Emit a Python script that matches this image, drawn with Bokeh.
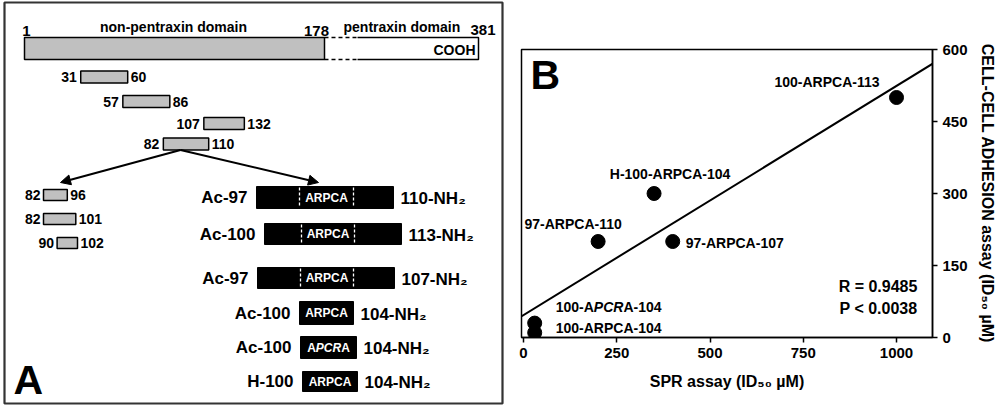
import numpy as np
from bokeh.plotting import figure
from bokeh.layouts import row
from bokeh.models import Range1d, Arrow, NormalHead, Slope
from bokeh.embed import file_html
from bokeh.resources import INLINE
from bokeh.core.properties import value

FONT = "Liberation Sans"

# ---------------- data ----------------
domain_residues = [1, 178, 381]
domain_names = ["non-pentraxin domain", "pentraxin domain"]
frag_start = [31, 57, 107, 82]
frag_end = [60, 86, 132, 110]
sub_start = [82, 82, 90]
sub_end = [96, 101, 102]
pep_nterm = ["Ac-97", "Ac-100", "Ac-97", "Ac-100", "Ac-100", "H-100"]
pep_cterm = ["110-NH\u2082", "113-NH\u2082", "107-NH\u2082", "104-NH\u2082", "104-NH\u2082", "104-NH\u2082"]
pep_motif = ["ARPCA", "ARPCA", "ARPCA", "ARPCA", "APCRA", "ARPCA"]

pep_names = ["100-ARPCA-113", "H-100-ARPCA-104", "97-ARPCA-110",
             "97-ARPCA-107", "100-APCRA-104", "100-ARPCA-104"]
spr = [1000, 350, 200, 400, 30, 30]
adhesion = [500, 300, 200, 200, 30, 10]
x_ticks = [0, 250, 500, 750, 1000]
y_ticks = [0, 150, 300, 450, 600]
stats = ["R = 0.9485", "P < 0.0038"]


def bold_text(p, x, y, t, size, align="left", color="black", style="bold", **kw):
    p.text(x=x, y=y, text=t, text_align=align, text_baseline="middle",
           text_font=value(FONT), text_font_style=style, text_font_size=size,
           text_color=color, **kw)


# ---------------- panel A (schematic, screen-like coordinates) ----------------
pA = figure(width=508, height=408, x_range=Range1d(0, 508), y_range=Range1d(408, 0),
            x_axis_type=None, y_axis_type=None, toolbar_location=None,
            output_backend="svg", min_border=0, min_border_left=0, min_border_right=0,
            min_border_top=0, min_border_bottom=0)
pA.frame_align = False
pA.grid.visible = False
pA.outline_line_color = None

# panel frame
pA.quad(left=[4], right=[502], top=[2], bottom=[403], fill_color=None,
        line_color="#333333", line_width=2.2)

# full-length protein
dom_x = [24, 324, 478]
bar_top, bar_bot = 37, 59
pA.quad(left=[dom_x[0]], right=[dom_x[1]], top=[bar_top], bottom=[bar_bot],
        fill_color="#c0c0c0", line_color="black", line_width=1.5)
pA.multi_line(xs=[[357, dom_x[2], dom_x[2], 357]], ys=[[bar_top, bar_top, bar_bot, bar_bot]],
              line_color="black", line_width=1.5)
pA.segment(x0=[dom_x[1], dom_x[1]], y0=[bar_top, bar_bot], x1=[357, 357], y1=[bar_top, bar_bot],
           line_color="black", line_width=1.5, line_dash="4 3")
bold_text(pA, [dom_x[0] + 2], [30], [str(domain_residues[0])], "15px", "center")
bold_text(pA, [dom_x[1] - 8], [30], [str(domain_residues[1])], "15px", "center")
bold_text(pA, [dom_x[2] - 8], [29], [str(domain_residues[2])], "15px", "left")
bold_text(pA, [173], [26], [domain_names[0]], "14px", "center")
bold_text(pA, [343], [26], [domain_names[1]], "14px", "left")
bold_text(pA, [475], [49], ["COOH"], "14px", "right")

# fragments
fx = lambda r: 30 + 1.62 * r
frag_y = [76.5, 101, 123, 143.5]
for s, e, y in zip(frag_start, frag_end, frag_y):
    pA.quad(left=[fx(s)], right=[fx(e)], top=[y - 6], bottom=[y + 6],
            fill_color="#c0c0c0", line_color="black", line_width=1.5)
    bold_text(pA, [fx(s) - 4], [y], [str(s)], "14px", "right")
    bold_text(pA, [fx(e) + 3], [y], [str(e)], "14px", "left")

# arrows
for xe in (60, 318):
    pA.add_layout(Arrow(end=NormalHead(size=10, fill_color="black", line_color="black"),
                        x_start=180, y_start=149.5, x_end=xe, y_end=182,
                        line_color="black", line_width=2))

# sub-fragments
sx = lambda r: 43 + 1.7 * (r - 82)
sub_y = [194.5, 218.5, 242.5]
for s, e, y in zip(sub_start, sub_end, sub_y):
    pA.quad(left=[sx(s)], right=[sx(e)], top=[y - 5.5], bottom=[y + 5.5],
            fill_color="#c0c0c0", line_color="black", line_width=1.5)
    bold_text(pA, [sx(s) - 3], [y], [str(s)], "14px", "right")
    bold_text(pA, [sx(e) + 3], [y], [str(e)], "14px", "left")

# peptides
pep_left = [256, 264, 257, 299, 300, 302]
pep_right = [393, 401, 394, 353, 356, 357]
motif_l = [299, 301, 300]
motif_r = [353, 354, 353]
pep_y = [197, 233.5, 277.5, 312.5, 347, 381]
pep_h = [22, 21, 21, 23, 22, 20]
for i, (nt, ct, mo) in enumerate(zip(pep_nterm, pep_cterm, pep_motif)):
    y, h, l, r = pep_y[i], pep_h[i], pep_left[i], pep_right[i]
    pA.quad(left=[l], right=[r], top=[y - h / 2], bottom=[y + h / 2],
            fill_color="black", line_color="black")
    bold_text(pA, [l - 9], [y], [nt], "17px", "right")
    bold_text(pA, [r + 7], [y + 1], [ct], "17px", "left")
    if i < 3:
        ml, mr = motif_l[i], motif_r[i]
        pA.segment(x0=[ml, mr], y0=[y - h / 2 + 1] * 2, x1=[ml, mr], y1=[y + h / 2 - 1] * 2,
                   line_color="white", line_width=1.3, line_dash="3 2")
        cx = (ml + mr) / 2
    else:
        cx = (l + r) / 2
    if mo == "APCRA":
        w1, w2 = 0.722 * 12, 2.111 * 12
        tot = 2 * w1 + w2
        bold_text(pA, [cx - tot / 2], [y], ["A"], "12px", "left", color="white")
        bold_text(pA, [cx - tot / 2 + w1], [y], ["PCR"], "12px", "left", color="white",
                  style="bold italic")
        bold_text(pA, [cx - tot / 2 + w1 + w2], [y], ["A"], "12px", "left", color="white")
    else:
        bold_text(pA, [cx], [y], [mo], "12px", "center", color="white")

bold_text(pA, [13], [379], ["A"], "41px", "left")

# ---------------- panel B (scatter) ----------------
pB = figure(width=492, height=408, x_range=Range1d(-5.4, 1096.5), y_range=Range1d(0, 600),
            y_axis_location="right", toolbar_location=None, output_backend="svg",
            min_border_left=13, min_border_right=68, min_border_top=49, min_border_bottom=71)
pB.frame_align = False
pB.grid.visible = False
pB.outline_line_color = "black"
pB.outline_line_width = 1.5

for ax in (pB.xaxis[0], pB.yaxis[0]):
    ax.major_label_text_font = FONT
    ax.major_label_text_font_style = "bold"
    ax.major_label_text_font_size = "15px"
    ax.major_label_text_color = "black"
    ax.axis_label_text_font = FONT
    ax.axis_label_text_font_style = "bold"
    ax.axis_label_text_font_size = "16px"
    ax.axis_label_text_color = "black"
    ax.axis_line_width = 1.5
    ax.major_tick_line_width = 1.5
    ax.major_tick_in = 0
    ax.major_tick_out = 5
    ax.minor_tick_out = 0
    ax.minor_tick_in = 0
    ax.major_label_standoff = 5
pB.xaxis.ticker = x_ticks
pB.yaxis.ticker = y_ticks
pB.xaxis.axis_label = "SPR assay (ID\u2085\u2080 \u00b5M)"
pB.yaxis.axis_label = "CELL-CELL ADHESION assay (ID\u2085\u2080 \u00b5M)"
pB.xaxis.axis_label_standoff = 12
pB.yaxis.axis_label_standoff = 8

slope, intercept = np.polyfit(spr, adhesion, 1)
pB.add_layout(Slope(gradient=slope, y_intercept=intercept, line_color="black", line_width=2))
pB.scatter(spr, adhesion, size=14, color="black")

lab_dx = [-17, 16, -25, 13, 21, 21]
lab_dy = [-16, -20, -18, 1, -16, -5]
lab_al = ["right", "center", "center", "left", "left", "left"]
for i, name in enumerate(pep_names):
    if name == "100-APCRA-104":
        w1, w2 = 2.723 * 14, 2.111 * 14
        parts = [("100-A", 0, "bold"), ("PCR", w1, "bold italic"), ("A-104", w1 + w2, "bold")]
        for t, off, st in parts:
            bold_text(pB, [spr[i]], [adhesion[i]], [t], "14px", "left", style=st,
                      x_offset=lab_dx[i] + off, y_offset=lab_dy[i])
    else:
        bold_text(pB, [spr[i]], [adhesion[i]], [name], "14px", lab_al[i],
                  x_offset=lab_dx[i], y_offset=lab_dy[i])

bold_text(pB, [1056, 1056], [106, 60], stats, "16px", "right")
bold_text(pB, [19], [547], ["B"], "41px", "left")

layout = row(pA, pB)
open("out.html", "w").write(file_html(layout, INLINE))
